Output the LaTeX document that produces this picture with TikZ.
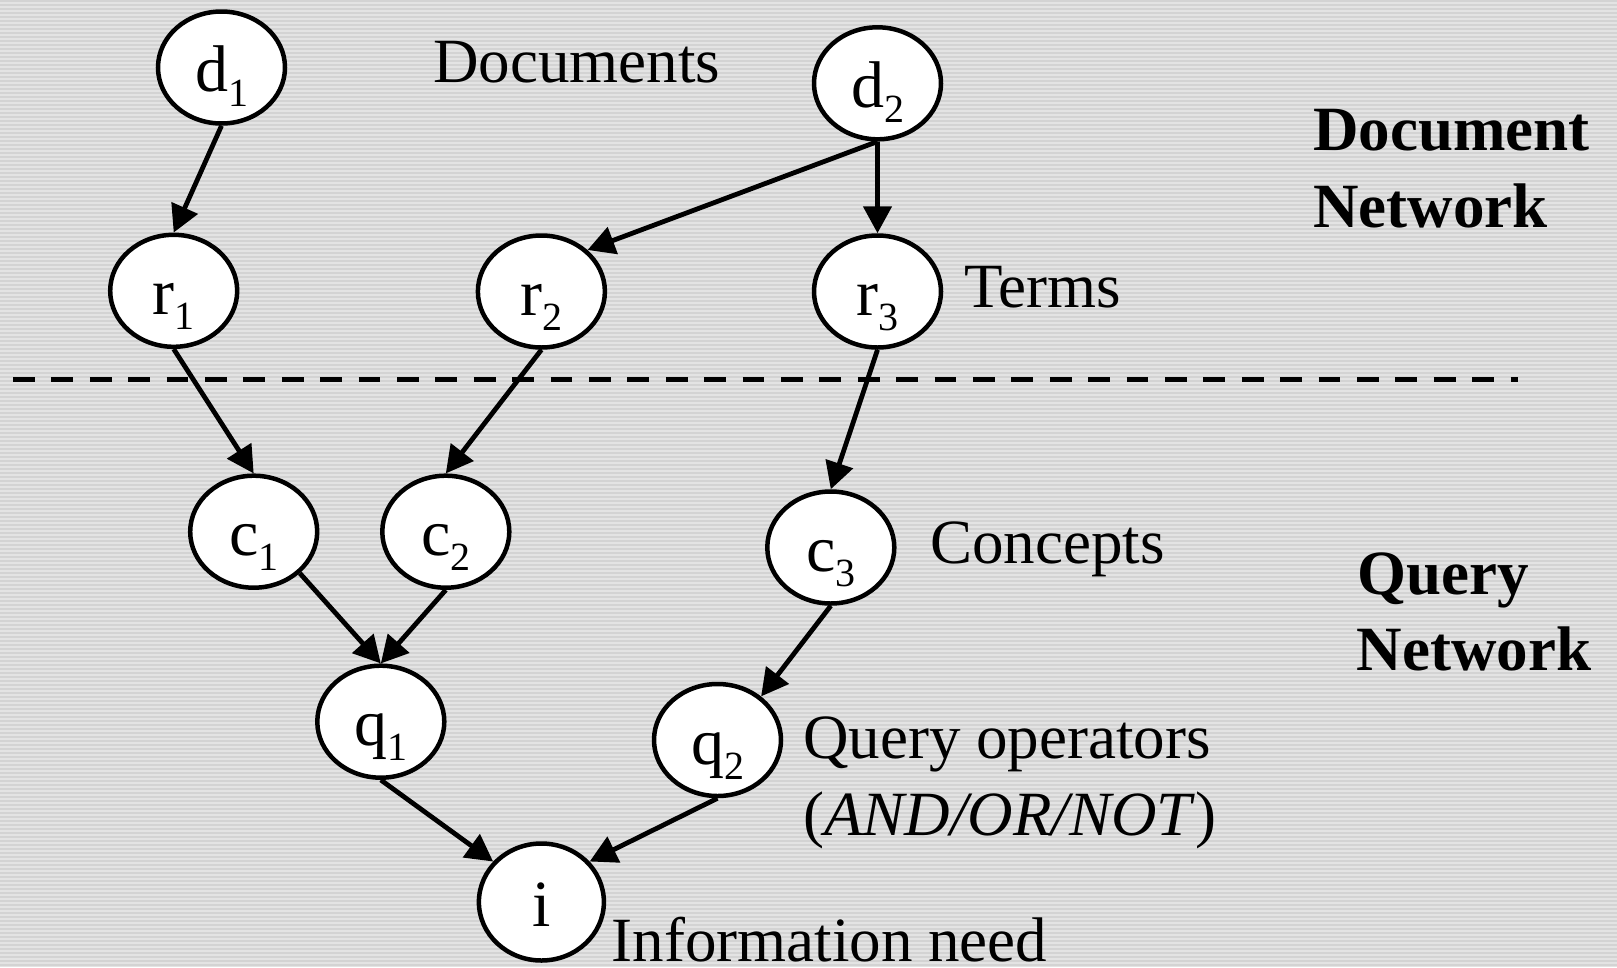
\documentclass[tikz,border=0pt]{standalone}
\usepackage{fontspec}
\setmainfont{Liberation Serif}
\usetikzlibrary{arrows.meta,shapes.geometric}
\definecolor{bglight}{HTML}{E3E3E3}
\definecolor{bgdark}{HTML}{D3D3D3}
\newcommand\lowsub[1]{\raisebox{-15pt}{\fontsize{40}{40}\selectfont #1}}
\begin{document}
\begin{tikzpicture}[x=1pt,y=-1pt,
  nd/.style={ellipse,draw=black,fill=white,line width=4.5pt,minimum width=127pt,minimum height=112pt,inner sep=0pt,text height=48pt,text depth=0pt,font=\fontsize{66}{66}\selectfont},
  arr/.style={line width=4.8pt,-{Triangle[length=27pt,width=28pt]}},
  lbl/.style={anchor=base west,inner sep=0pt,font=\fontsize{63}{63}\selectfont},
  blbl/.style={anchor=base west,inner sep=0pt,font=\fontsize{63}{63}\selectfont\bfseries},
  sep/.style={line width=5.5pt,dash pattern=on 21.7pt off 16.7pt}]
\useasboundingbox (0,0) rectangle (1617,967);
\fill[bglight] (0,0) rectangle (1617,967);
\foreach \y in {0,4,...,964} \fill[bgdark] (0,\y) rectangle (1617,\y+2);

% separator
\coordinate (dl) at (13,379.3);
\coordinate (dr) at (1518,379.3);
\draw[sep] (dl) -- (dr);

% nodes
\node[nd] (d1) at (221.5,67.5) {d\lowsub{1}};
\node[nd] (d2) at (877.5,83.3) {d\lowsub{2}};
\node[nd] (r1) at (173.7,290.8) {r\lowsub{1}};
\node[nd] (r2) at (541.4,291.5) {r\lowsub{2}};
\node[nd] (r3) at (877.5,291.5) {r\lowsub{3}};
\node[nd] (c1) at (253.7,531.7) {c\lowsub{1}};
\node[nd] (c2) at (445.8,531.7) {c\lowsub{2}};
\node[nd] (c3) at (830.8,547.5) {c\lowsub{3}};
\node[nd] (q1) at (380.8,721.7) {q\lowsub{1}};
\node[nd] (q2) at (717.5,740) {q\lowsub{2}};
\node[nd,minimum width=125pt,minimum height=117pt] (i) at (541.4,902) {i};

% edges
\draw[arr] (d1.south) -- (r1.north);
\draw[arr] (d2.south) -- (r2.42);
\draw[arr] (d2.south) -- (r3.north);
\draw[arr] (r1.south) -- (c1.north);
\draw[arr] (r2.south) -- (c2.north);
\draw[arr] (r3.south) -- (c3.north);
\draw[arr] (c1.-42) -- (q1.north);
\draw[arr] (c2.south) -- (q1.north);
\draw[arr] (c3.south) -- (q2.45);
\draw[arr] (q1.south) -- (i.140);
\draw[arr] (q2.south) -- (i.40);

% labels
\node[lbl] (tdoc) at (433,82.7) {Documents};
\node[lbl] (tterm) at (964,307.3) {Terms};
\node[lbl] (tconc) at (930,563.3) {Concepts};
\node[lbl] (tqop) at (803,758.3) {Query operators};
\node[lbl] (tand) at (803,835) {(\textit{AND/OR/NOT})};
\node[lbl] (tinfo) at (611.5,961) {Information need};
\node[blbl] (tdn1) at (1313,150) {Document};
\node[blbl] (tdn2) at (1313,227.3) {Network};
\node[blbl] (tqn1) at (1357,594) {Query};
\node[blbl] (tqn2) at (1356.7,670) {Network};
\end{tikzpicture}
\end{document}
